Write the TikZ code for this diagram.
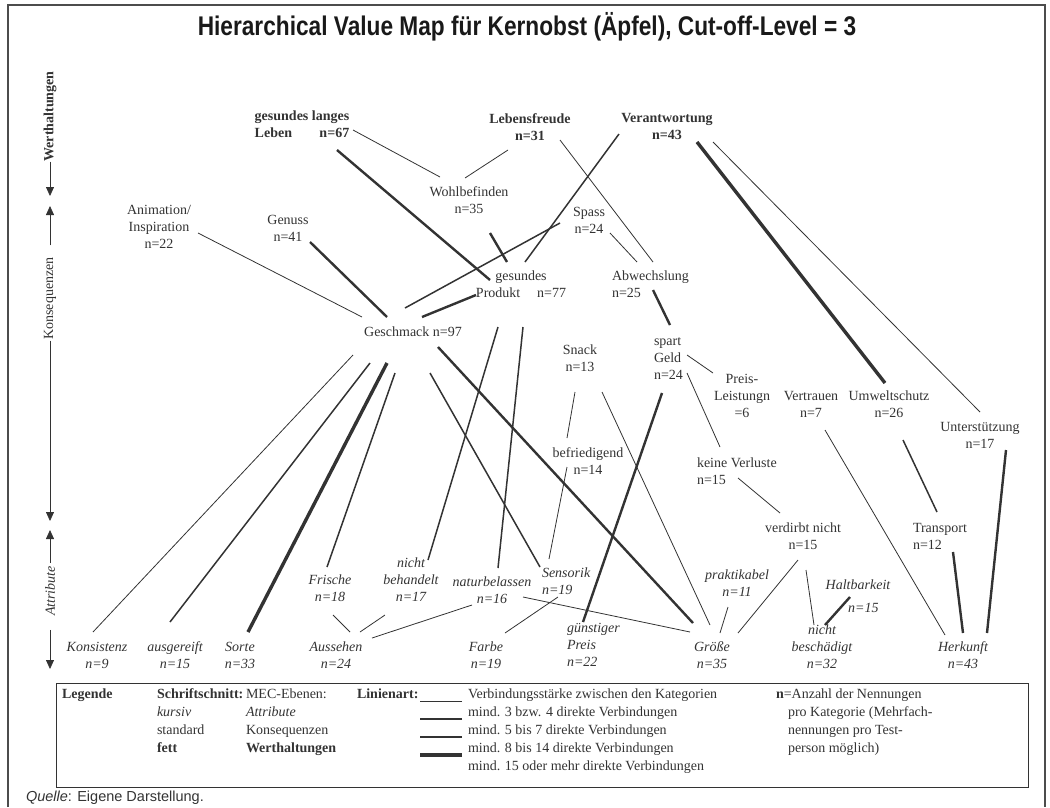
\documentclass[tikz,border=0pt]{standalone}
\usepackage{fontspec}
\setmainfont{Liberation Serif}
\newfontfamily\titlefont{Liberation Sans}[FakeStretch=0.84]
\newfontfamily\quellefont{Liberation Sans}
\usepackage{tikz}
\usetikzlibrary{arrows.meta}
\definecolor{scangray}{gray}{0.2}

\begin{document}
\begin{tikzpicture}[x=1pt, y=-1pt,
    every node/.style={inner sep=0pt, outer sep=0pt, text=scangray, font=\fontsize{14}{17}\selectfont},
    attr/.style={align=center, font=\fontsize{14}{17}\selectfont\itshape},
    kons/.style={align=center},
    wert/.style={align=center, font=\fontsize{14}{17}\selectfont\bfseries},
    legtext/.style={anchor=north west, align=left, font=\fontsize{14}{18}\selectfont},
    conthin/.style={draw=scangray, line width=0.8pt},
    conmed/.style={draw=scangray, line width=1.5pt},
    conthick/.style={draw=scangray, line width=2.4pt},
    convthick/.style={draw=scangray, line width=3.4pt},
    axarrow/.style={draw=scangray, line width=0.8pt, -{Triangle[width=8pt,length=9pt]}}]
    \useasboundingbox (0,0) rectangle (1050,807);
    %
    \draw[black!70, line width=1.2pt] (8,807) -- (8,5) -- (1045,5) -- (1045,807);
    \node[font=\titlefont\bfseries\fontsize{27}{32}\selectfont, text=black!90] (title) at (527,27)
        {Hierarchical Value Map für Kernobst (Äpfel), Cut-off-Level = 3};
    %
    % levels on the left
    \node[rotate=90, font=\fontsize{14}{17}\selectfont\bfseries] (axwert) at (50,116.5) {Werthaltungen};
    \node[rotate=90] (axkons) at (50,298.5) {Konsequenzen};
    \node[rotate=90, font=\fontsize{14}{17}\selectfont\itshape] (axattr) at (50,591) {Attribute};
    \coordinate (wertdown) at (50,196);
    \coordinate (konsup) at (50,206);
    \coordinate (konsdown) at (50,521);
    \coordinate (attrup) at (50,530);
    \coordinate (attrdown) at (50,669);
    \draw[axarrow] (axwert.west) -- (wertdown);
    \draw[axarrow] ([yshift=12pt]axkons.east) -- (konsup);
    \draw[axarrow] ([yshift=-1pt]axkons.west) -- (konsdown);
    \draw[axarrow] ([yshift=3pt]axattr.east) -- (attrup);
    \draw[axarrow] ([yshift=-14pt]axattr.west) -- (attrdown);
    %
    % Werthaltungen
    \node[wert] (gll) at (302,125.5) {\begin{tabular}{@{}l@{}}gesundes langes\\Leben\hfill n=67\end{tabular}};
    \node[wert] (lebf) at (530,127) {Lebensfreude\\n=31};
    \node[wert] (verant) at (667,126.5) {Verantwortung\\n=43};
    %
    % Konsequenzen
    \node[kons] (wohl) at (469,200.5) {Wohlbefinden\\n=35};
    \node[kons] (anim) at (159,227) {Animation/\\Inspiration\\n=22};
    \node[kons] (genuss) at (288,228.5) {Genuss\\n=41};
    \node[kons] (spass) at (589,220) {Spass\\n=24};
    \node[kons] (gesprod) at (521,284) {gesundes\\Produkt\hspace{1.2em}n=77};
    \node[kons, align=left, anchor=west] (abw) at (612,284) {Abwechslung\\n=25};
    \node[kons] (gesch) at (413,332) {Geschmack n=97};
    \node[kons] (snack) at (580,358.5) {Snack\\n=13};
    \node[kons, align=left, anchor=west] (spart) at (654,358.5) {spart\\Geld\\n=24};
    \node[kons] (preis) at (742,396) {Preis-\\Leistungn\\=6};
    \node[kons] (vertr) at (811,404.5) {Vertrauen\\n=7};
    \node[kons] (umwelt) at (889,404.5) {Umweltschutz\\n=26};
    \node[kons] (unterst) at (980,435) {Unterstützung\\n=17};
    \node[kons] (befr) at (588,461.5) {befriedigend\\n=14};
    \node[kons, align=left, anchor=west] (keinev) at (697,471.5) {keine Verluste\\n=15};
    \node[kons] (verdirbt) at (803,536.5) {verdirbt nicht\\n=15};
    \node[kons, align=left, anchor=west] (transp) at (913,536.5) {Transport\\n=12};
    %
    % Attribute
    \node[attr] (frische) at (330,588.5) {Frische\\n=18};
    \node[attr] (nichtbeh) at (411,580) {nicht\\behandelt\\n=17};
    \node[attr] (naturb) at (492,590.5) {naturbelassen\\n=16};
    \node[attr, align=left, anchor=west] (sensorik) at (542,581.5) {Sensorik\\n=19};
    \node[attr] (praktik) at (737,583.5) {praktikabel\\n=11};
    \node[attr, align=left] (haltb) at (858,596) {Haltbarkeit\\[6pt]\hspace*{1.6em}n=15};
    \node[attr, align=left, anchor=west] (gunstig) at (567,645) {günstiger\\Preis\\n=22};
    \node[attr] (konsist) at (97,655.5) {Konsistenz\\n=9};
    \node[attr] (ausger) at (175,655.5) {ausgereift\\n=15};
    \node[attr] (sorte) at (240,655.5) {Sorte\\n=33};
    \node[attr] (aussehen) at (336,655.5) {Aussehen\\n=24};
    \node[attr] (farbe) at (486,655.5) {Farbe\\n=19};
    \node[attr] (groesse) at (712,655.5) {Größe\\n=35};
    \node[attr] (nichtbes) at (822,647) {nicht\\beschädigt\\n=32};
    \node[attr] (herkunft) at (963,655.5) {Herkunft\\n=43};
    %
    % Werthaltungen -- Konsequenzen
    \draw[conthin] ([shift={(51,4.5)}]gll.center) -- ([shift={(-29,-23.5)}]wohl.center);
    \draw[conthin] ([shift={(-22,23)}]lebf.center) -- ([shift={(-4,-22.5)}]wohl.center);
    \draw[conthick] ([shift={(35,24.5)}]gll.center) -- ([shift={(-31,-4)}]gesprod.center);
    \draw[conthin] ([shift={(30,13)}]lebf.center) -- ([shift={(41,-22)}]abw.west);
    \draw[conmed] ([shift={(-48,7.5)}]verant.center) -- ([shift={(4,-22)}]gesprod.center);
    \draw[convthick] ([shift={(30,15.5)}]verant.center) -- ([shift={(-4,-21.5)}]umwelt.center);
    \draw[conthin] ([shift={(46,15.5)}]verant.center) -- ([shift={(0,-23)}]unterst.center);
    %
    % Konsequenzen -- Konsequenzen
    \draw[conmed] ([shift={(-29,3)}]spass.center) -- ([shift={(-8,-24)}]gesch.center);
    \draw[conthin] ([shift={(21,13)}]spass.center) -- ([shift={(25,-22)}]abw.west);
    \draw[conthick] ([shift={(21,32.5)}]wohl.center) -- ([shift={(-14,-22)}]gesprod.center);
    \draw[conthick] ([shift={(9,-15)}]gesch.center) -- ([shift={(-45,11)}]gesprod.center);
    \draw[conthick] ([shift={(22,13.5)}]genuss.center) -- ([shift={(-26,-15)}]gesch.center);
    \draw[conthin] ([shift={(39,6)}]anim.center) -- ([shift={(-51,-15)}]gesch.center);
    \draw[conthick] ([shift={(41,6)}]abw.west) -- ([shift={(16,-33.5)}]spart.west);
    \draw[conthin] ([shift={(-5,33.5)}]snack.center) -- ([shift={(-21,-23.5)}]befr.center);
    \draw[conthin] ([shift={(33,-3.5)}]spart.west) -- ([shift={(-29,-23)}]preis.center);
    \draw[conthin] ([shift={(33,14.5)}]spart.west) -- ([shift={(23,-24.5)}]keinev.west);
    \draw[conthin] ([shift={(41,6.5)}]keinev.west) -- ([shift={(-23,-23.5)}]verdirbt.center);
    \draw[conmed] ([shift={(14,35.5)}]umwelt.center) -- ([shift={(24,-24.5)}]transp.west);
    %
    % Konsequenzen -- Attribute
    \draw[conthin] ([shift={(-60,23)}]gesch.center) -- ([shift={(-4,-23.5)}]konsist.center);
    \draw[conmed] ([shift={(-43,31)}]gesch.center) -- ([shift={(-5,-33.5)}]ausger.center);
    \draw[convthick] ([shift={(-26,31)}]gesch.center) -- ([shift={(8,-23.5)}]sorte.center);
    \draw[conmed] ([shift={(-18,41)}]gesch.center) -- ([shift={(-3,-21.5)}]frische.center);
    \draw[conthick] ([shift={(25,15)}]gesch.center) -- ([shift={(-19,-32.5)}]groesse.center);
    \draw[conmed] ([shift={(17,41)}]gesch.center) -- ([shift={(-2,-14.5)}]sensorik.west);
    \draw[conmed] ([shift={(2,43)}]gesprod.center) -- ([shift={(6,-22.5)}]naturb.center);
    \draw[conmed] ([shift={(-23,43)}]gesprod.center) -- ([shift={(17,-20)}]nichtbeh.center);
    \draw[conthin] ([shift={(-21,5.5)}]befr.center) -- ([shift={(7,-22.5)}]sensorik.west);
    \draw[conthin] ([shift={(22,33.5)}]snack.center) -- ([shift={(-2,-30.5)}]groesse.center);
    \draw[conthick] ([shift={(8,34.5)}]spart.west) -- ([shift={(16,-23)}]gunstig.west);
    \draw[conthin] ([shift={(-5,23.5)}]verdirbt.center) -- ([shift={(26,-22.5)}]groesse.center);
    \draw[conthin] ([shift={(3,33.5)}]verdirbt.center) -- ([shift={(-8,-22)}]nichtbes.center);
    \draw[conthin] ([shift={(14,25.5)}]vertr.center) -- ([shift={(-18,-20.5)}]herkunft.center);
    \draw[conthick] ([shift={(40,15.5)}]transp.west) -- ([shift={(0,-22.5)}]herkunft.center);
    \draw[conthick] ([shift={(26,15)}]unterst.center) -- ([shift={(24,-22.5)}]herkunft.center);
    %
    % Attribute -- Attribute
    \draw[conthin] ([shift={(3,26.5)}]frische.center) -- ([shift={(14,-23.5)}]aussehen.center);
    \draw[conthin] ([shift={(-26,35)}]nichtbeh.center) -- ([shift={(24,-23.5)}]aussehen.center);
    \draw[conthin] ([shift={(-20,14.5)}]naturb.center) -- ([shift={(36,-17.5)}]aussehen.center);
    \draw[conthin] ([shift={(16,15.5)}]sensorik.west) -- ([shift={(19,-22.5)}]farbe.center);
    \draw[conthin] ([shift={(31,6.5)}]naturb.center) -- ([shift={(-22,-23.5)}]groesse.center);
    \draw[conthin] ([shift={(-9,23.5)}]praktik.center) -- ([shift={(8,-22.5)}]groesse.center);
    \draw[conthick] ([shift={(-8,1)}]haltb.center) -- ([shift={(3,-22)}]nichtbes.center);
    %
    % Legende
    \draw[scangray, line width=0.9pt] (56,683) rectangle (1028,787);
    \node[legtext, font=\fontsize{14}{18}\selectfont\bfseries] (legende) at (62,689) {Legende};
    \node[legtext] (legschrift) at (157,689) {\textbf{Schriftschnitt:}\\\textit{kursiv}\\standard\\\textbf{fett}};
    \node[legtext] (legmec) at (246,689) {MEC-Ebenen:\\\textit{Attribute}\\Konsequenzen\\\textbf{Werthaltungen}};
    \node[legtext, font=\fontsize{14}{18}\selectfont\bfseries] (legart) at (357,689) {Linienart:};
    \node[legtext] (legverb) at (468,689) {Verbindungsstärke zwischen den Kategorien\\mind. 3 bzw. 4 direkte Verbindungen\\mind. 5 bis 7 direkte Verbindungen\\mind. 8 bis 14 direkte Verbindungen\\mind. 15 oder mehr direkte Verbindungen};
    \node[legtext] (legn) at (776,689) {\textbf{n}=Anzahl der Nennungen\\\hspace*{12pt}pro Kategorie (Mehrfach-\\\hspace*{12pt}nennungen pro Test-\\\hspace*{12pt}person möglich)};
    \draw[conthin] ([xshift=-6pt]legverb.north west |- 0,701) -- ++(-42,0);
    \draw[conmed] ([xshift=-6pt]legverb.north west |- 0,719) -- ++(-42,0);
    \draw[conthick] ([xshift=-6pt]legverb.north west |- 0,737) -- ++(-42,0);
    \draw[convthick] ([xshift=-6pt]legverb.north west |- 0,755) -- ++(-42,0);
    %
    \node[anchor=west, font=\quellefont\fontsize{14.5}{17}\selectfont] (quelle) at (26,798) {\textit{Quelle}: Eigene Darstellung.};
\end{tikzpicture}
\end{document}
